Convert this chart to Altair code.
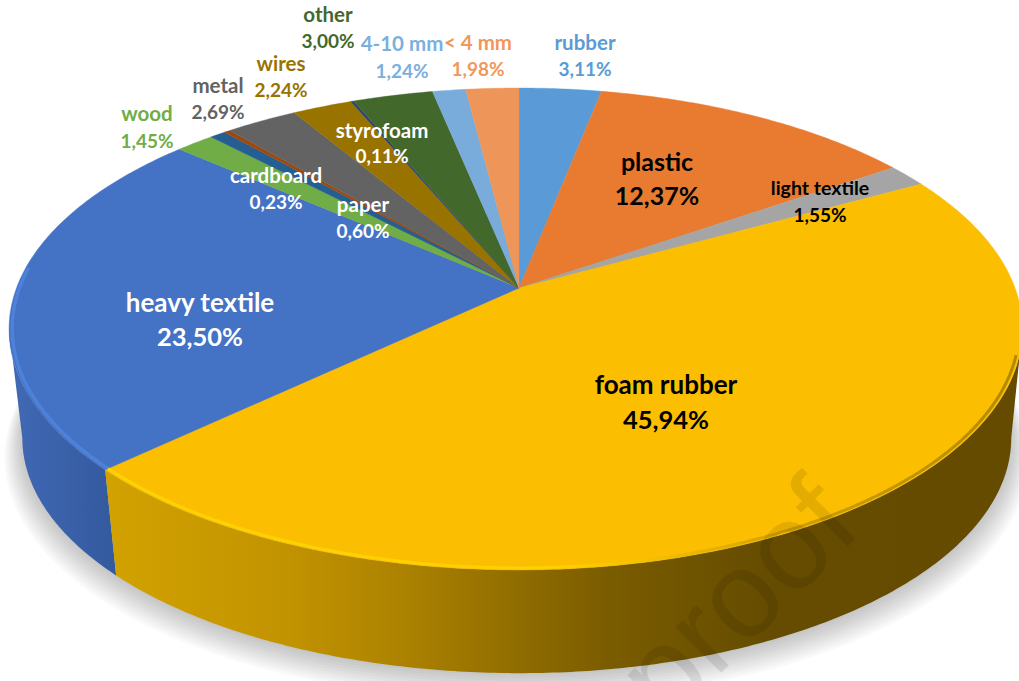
import math
import altair as alt

# Material shares of the sample, percent, clockwise from twelve o'clock
CATEGORIES = ["rubber", "plastic", "light textile", "foam rubber", "heavy textile", "wood",
              "paper", "cardboard", "metal", "wires", "styrofoam", "other", "4-10 mm", "< 4 mm"]
SHARES = [3.11, 12.37, 1.55, 45.94, 23.50, 1.45, 0.60, 0.23, 2.69, 2.24, 0.11, 3.00, 1.24, 1.98]
COLORS = ["#5A9AD6", "#E97B31", "#A5A5A5", "#FBBE00", "#4472C4", "#70AD47", "#255E91",
          "#9E480E", "#636363", "#997300", "#264478", "#43682B", "#79ABDB", "#EE9559"]

# Label placement: centre x, name line y, value line y, name size, value size, text colour
LABEL_LAYOUT = {
    "rubber": (585, 44, 70, 20.5, 19, "#5B9BD5"),
    "plastic": (657, 163, 197, 25, 25, "#000000"),
    "light textile": (820, 189, 216, 19.5, 19, "#000000"),
    "foam rubber": (666, 386, 421, 26, 25.5, "#000000"),
    "heavy textile": (200, 304, 338, 26, 25.5, "#FFFFFF"),
    "wood": (147, 115, 142, 20.5, 19, "#70AD47"),
    "cardboard": (276, 177, 203, 20.5, 19, "#FFFFFF"),
    "paper": (363, 206, 232, 20.5, 19, "#FFFFFF"),
    "metal": (218, 87, 113, 20.5, 19, "#636363"),
    "wires": (281, 65, 91, 20.5, 19, "#997300"),
    "styrofoam": (382, 132, 157, 20.5, 19, "#FFFFFF"),
    "other": (328, 16, 42, 20.5, 19, "#43682B"),
    "4-10 mm": (402, 45, 72, 20.5, 19, "#7CAFDD"),
    "< 4 mm": (478, 44, 70, 20.5, 19, "#F1975A"),
}

W, H = 1019, 681
APEX = (519, 288)      # where the slices meet on screen
HALF_W_RIGHT = 496.0   # horizontal spread of the tilted disc, right of the apex
HALF_W_LEFT = 502.5    # horizontal spread of the tilted disc, left of the apex
HALF_H = 234.0         # vertical spread of the tilted disc
TILT = 0.17            # perspective strength
BASE_SCALE = 0.976     # lower rim is slightly smaller than the upper one
BASE_DROP = 110        # thickness of the disc, pixels
BASE_SHIFT = 1
# Angles at which the disc's outline turns back, where the side wall ends
SILHOUETTE_RIGHT = math.acos(-TILT)
SILHOUETTE_LEFT = 2 * math.pi - math.acos(-TILT)


def rim(angle, radius=1.0, scale=1.0, dx=0.0, dy=0.0):
    """Screen offset from the apex (y up) of a point on the tilted disc."""
    px, py = radius * math.sin(angle), radius * math.cos(angle)
    d = 1 + TILT * py
    half_w = HALF_W_RIGHT if px > 0 else HALF_W_LEFT
    return [dx + scale * half_w * px / d, dy + scale * HALF_H * py / d]


def arc_points(a0, a1, **kw):
    n = max(2, int(abs(a1 - a0) / 0.01))
    return [rim(a0 + (a1 - a0) * i / n, **kw) for i in range(n + 1)]


def polygon(ring, **props):
    return {"type": "Feature", "properties": props,
            "geometry": {"type": "Polygon", "coordinates": [ring + [ring[0]]]}}


def line(points, **props):
    return {"type": "Feature", "properties": props,
            "geometry": {"type": "LineString", "coordinates": points}}


def geo(features):
    return alt.Data(values={"type": "FeatureCollection", "features": features},
                    format=alt.DataFormat(property="features", type="json"))


total = sum(SHARES)
edges = [0.0]
for share in SHARES:
    edges.append(edges[-1] + share / total * 2 * math.pi)
span = dict(zip(CATEGORIES, zip(edges[:-1], edges[1:])))

faces = [polygon([[0, 0]] + arc_points(a0, a1), name=name) for name, (a0, a1) in span.items()]


def wall(a0, a1):
    base = dict(scale=BASE_SCALE, dx=BASE_SHIFT, dy=-BASE_DROP)
    return polygon(arc_points(a0, a1) + arc_points(a1, a0, **base), name="wall")


foam_start, foam_end = span["foam rubber"]
heavy_start, _ = span["heavy textile"]

projection = dict(type="identity", scale=1, translate=list(APEX), reflectY=True)


def linear(stops):
    return alt.LinearGradient(gradient="linear", x1=0, x2=1, y1=0, y2=0,
                              stops=[alt.GradientStop(offset=o, color=c) for o, c in stops])


# Soft drop shadow: a stack of faint, growing discs under the base
shadow_discs = []
for step in range(10):
    grow = 1 + step * 0.004
    ring = arc_points(0, 2 * math.pi, scale=BASE_SCALE * grow, dx=BASE_SHIFT,
                      dy=-BASE_DROP - 2 - step * 1.8)
    shadow_discs.append(polygon(ring[:-1], name="shadow"))
shadow = alt.Chart(geo(shadow_discs)).mark_geoshape(
    fill="#000000", fillOpacity=0.022, stroke=None, clip=True).project(**projection)

heavy_wall = alt.Chart(geo([wall(heavy_start, SILHOUETTE_LEFT)])).mark_geoshape(
    fill=linear([(0, "#4169B5"), (1, "#335A9E")]), stroke=None, clip=True
).project(**projection)

# Both gradients run left to right across the shape's bounding box
foam_wall = alt.Chart(geo([wall(SILHOUETTE_RIGHT, foam_end)])).mark_geoshape(
    fill=linear([(0, "#D2A200"), (0.2, "#C29300"), (0.33, "#AB8100"), (0.55, "#7A5C00"),
                 (0.72, "#654C00"), (1, "#644B00")]),
    stroke=None, clip=True
).project(**projection)

top = alt.Chart(geo(faces)).mark_geoshape(strokeWidth=0.4, clip=True).encode(
    fill=alt.Fill("properties.name:N", scale=alt.Scale(domain=CATEGORIES, range=COLORS), legend=None),
    stroke=alt.Stroke("properties.name:N", scale=alt.Scale(domain=CATEGORIES, range=COLORS), legend=None),
).project(**projection)

heavy_bevel = alt.Chart(geo([line(arc_points(heavy_start, 4.8, radius=0.994), name="bevel")])).mark_geoshape(
    filled=False, stroke="#4F84DE", strokeWidth=3.5, strokeOpacity=0.85, clip=True
).project(**projection)

foam_bevel = alt.Chart(geo([line(arc_points(1.85, foam_end, radius=0.994), name="bevel")])).mark_geoshape(
    filled=False, strokeWidth=3, strokeOpacity=0.8, clip=True,
    stroke=linear([(0, "#FFD800"), (0.5, "#FFD400"), (0.62, "#EDBB00"), (0.75, "#C79700"), (1, "#A07B00")]),
).project(**projection)

# Two text rows per slice: the name and the value stated on the chart
label_rows = []
for name, share in zip(CATEGORIES, SHARES):
    cx, y_name, y_value, name_size, value_size, color = LABEL_LAYOUT[name]
    value_text = f"{share:.2f}".replace(".", ",") + "%"
    label_rows.append({"text": name, "x": cx, "y": y_name, "size": name_size, "color": color})
    label_rows.append({"text": value_text, "x": cx, "y": y_value, "size": value_size, "color": color})

labels = alt.Chart(alt.Data(values=label_rows)).mark_text(
    font="Lato", fontWeight="bold", align="center", baseline="middle"
).encode(
    x=alt.X("x:Q", scale=None, axis=None),
    y=alt.Y("y:Q", scale=None, axis=None),
    text="text:N",
    size=alt.Size("size:Q", scale=None, legend=None),
    color=alt.Color("color:N", scale=None, legend=None),
)

watermark = alt.Chart(alt.Data(values=[{"text": "proof", "x": 864, "y": 530}])).mark_text(
    font="Liberation Sans", fontSize=122, angle=315, align="right", baseline="alphabetic",
    color="#000000", opacity=0.085, clip=True
).encode(
    x=alt.X("x:Q", scale=None, axis=None),
    y=alt.Y("y:Q", scale=None, axis=None),
    text="text:N",
)

chart = alt.layer(shadow, heavy_wall, foam_wall, top, heavy_bevel, foam_bevel, labels, watermark).properties(
    width=W, height=H, padding=0, autosize=alt.AutoSizeParams(type="none"),
    background="#FFFFFF"
).configure_view(stroke=None)

chart.save("out.html", embed_options={"renderer": "svg", "actions": False})
